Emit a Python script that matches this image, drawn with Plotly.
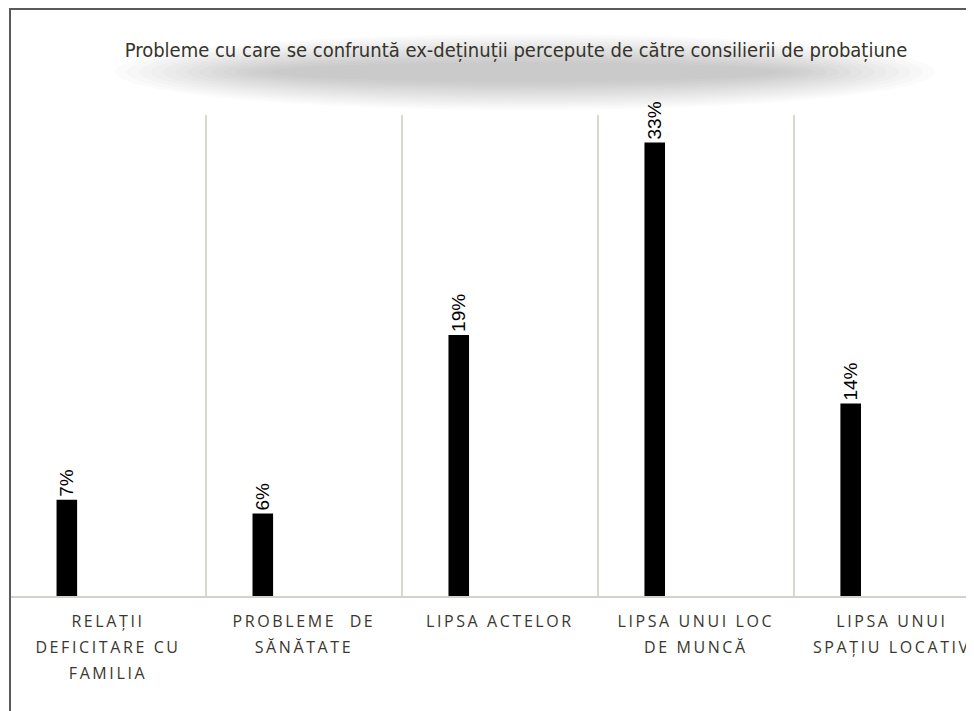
import plotly.graph_objects as go

categories = ['RELAȚII DEFICITARE CU FAMILIA', 'PROBLEME DE SĂNĂTATE', 'LIPSA ACTELOR',
              'LIPSA UNUI LOC DE MUNCĂ', 'LIPSA UNUI SPAȚIU LOCATIV']
tick_labels = ['RELAȚII<br>DEFICITARE CU<br>FAMILIA', 'PROBLEME  DE<br>SĂNĂTATE', 'LIPSA ACTELOR',
               'LIPSA UNUI LOC<br>DE MUNCĂ', 'LIPSA UNUI<br>SPAȚIU LOCATIV']
values = [7, 6, 19, 33, 14]
value_labels = ['7%', '6%', '19%', '33%', '14%']

title = 'Probleme cu care se confruntă ex-deținuții percepute de către consilierii de probațiune'

# plot area in figure pixels (page body has an 8px margin)
PL, PT, PB, PW = 2, 107, 588, 972


def px_x(x):
    return (x - PL) / PW


def px_y(y):
    return 1 + (PT - y) / (PB - PT)


def spaced(label):
    # letter spacing via inline span, one span per line
    return '<br>'.join('<span style="letter-spacing:2.6px;font-size:16px">%s</span>' % part
                       for part in label.split('<br>'))


fig = go.Figure()

fig.add_trace(go.Bar(
    x=categories,
    y=values,
    text=value_labels,
    textposition='outside',
    textangle=-90,
    constraintext='none',
    textfont=dict(family='Liberation Sans, Arial', size=19, color='black'),
    marker=dict(color='black', line=dict(width=0)),
    width=0.105,
    offset=-0.2625,
    cliponaxis=False,
    showlegend=False
))

# soft shadow behind the title
cx, cy = 517, 64
for k in range(14):
    rx = 410 - k * 12
    ry = 38 - k * 2.2
    fig.add_shape(type='circle', xref='paper', yref='paper', layer='below',
                  x0=px_x(cx - rx), x1=px_x(cx + rx),
                  y0=px_y(cy + ry), y1=px_y(cy - ry),
                  fillcolor='rgba(105,102,98,0.025)', line=dict(width=0))

# outer frame (only left and top edges visible)
fig.add_shape(type='rect', xref='paper', yref='paper',
              x0=0, x1=1.2, y0=-0.5, y1=px_y(1),
              line=dict(color='#5a5a5a', width=2), fillcolor='rgba(0,0,0,0)')

fig.update_layout(
    width=974,
    height=711,
    paper_bgcolor='white',
    plot_bgcolor='white',
    margin=dict(l=PL, r=0, t=PT, b=711 - PB),
    title=dict(text=title, x=px_x(508), xref='paper', xanchor='center',
               y=1 - 42 / 711, yanchor='middle',
               font=dict(family='DejaVu Sans Condensed, Liberation Sans Narrow, Arial', size=20,
                         color='#35342b')),
    xaxis=dict(
        type='category',
        range=[-0.5, 4.46],
        tickmode='array',
        tickvals=categories,
        ticktext=[spaced(t) for t in tick_labels],
        tickson='boundaries',
        showgrid=True,
        gridcolor='#d9d6cc',
        gridwidth=1.5,
        showline=True,
        linecolor='#d4d1c8',
        linewidth=2,
        ticks='',
        ticklabelstandoff=5,
        tickfont=dict(family='Open Sans, DejaVu Sans', size=20, color='#3a372f'),
        zeroline=False
    ),
    yaxis=dict(range=[0, 35], visible=False, showgrid=False, zeroline=False),
)

fig.write_html('out.html')
